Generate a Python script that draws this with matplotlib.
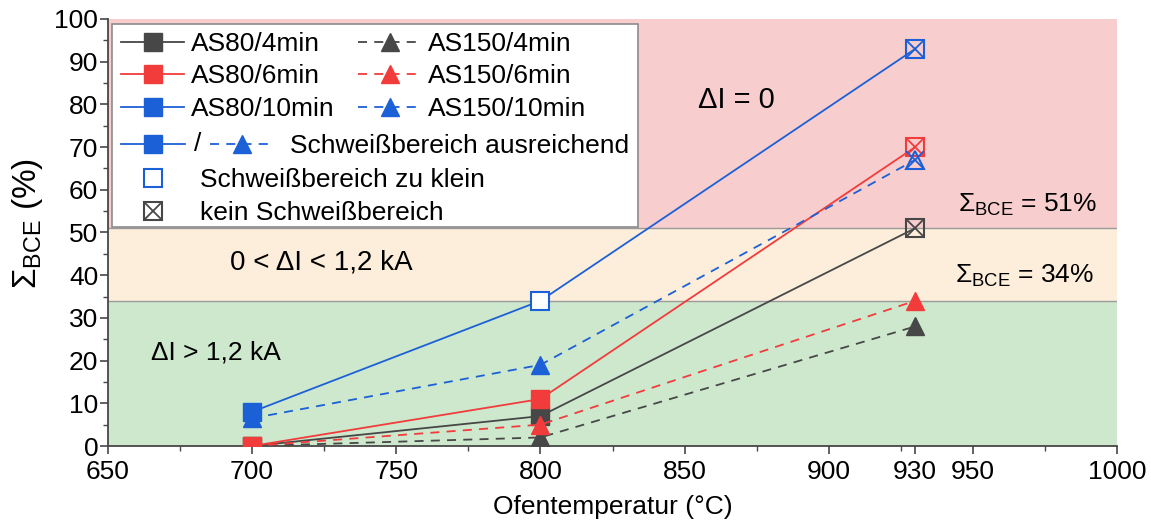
import numpy as np
import matplotlib
matplotlib.use("Agg")
import matplotlib.pyplot as plt
from matplotlib.lines import Line2D
from matplotlib.text import Text
from matplotlib.patches import Rectangle
from matplotlib.ticker import MultipleLocator
from matplotlib.legend_handler import HandlerTuple

plt.rcParams['font.family'] = ['Liberation Sans', 'DejaVu Sans']
plt.rcParams['mathtext.fontset'] = 'custom'
plt.rcParams['mathtext.rm'] = 'Liberation Sans'
plt.rcParams['mathtext.it'] = 'Liberation Sans:italic'
plt.rcParams['mathtext.bf'] = 'Liberation Sans:bold'

# data
temps = [700, 800, 930]
as80_4 = [0, 7, 51]
as80_6 = [0, 11, 70]
as80_10 = [8, 34, 93]
as150_4 = [0, 2, 28]
as150_6 = [0, 5, 34]
as150_10 = [6.5, 19, 67]
# ok = Schweißbereich ausreichend, small = zu klein, none = kein Schweißbereich
as80_4_state = ['ok', 'ok', 'none']
as80_6_state = ['ok', 'ok', 'none']
as80_10_state = ['ok', 'small', 'none']
as150_4_state = ['ok', 'ok', 'ok']
as150_6_state = ['ok', 'ok', 'ok']
as150_10_state = ['ok', 'ok', 'none']

limits = [34, 51]  # Sigma_BCE grenzen

GRAY = '#474747'
RED = '#f23c3c'
BLUE = '#1c60d8'
MS = 13
LW = 1.3
DASH = (0, (5, 4))

fig = plt.figure(figsize=(11.51, 5.27), dpi=100)
ax = fig.add_axes([0.0938, 0.1537, 0.8767, 0.8103])

ax.axhspan(0, limits[0], color='#cde8cc', zorder=0, lw=0)
ax.axhspan(limits[0], limits[1], color='#fdeedb', zorder=0, lw=0)
ax.axhspan(limits[1], 100, color='#f8cdcd', zorder=0, lw=0)
for l in limits:
    ax.axhline(l, color='#9a9a9a', lw=1, zorder=0.5)

series = [
    (as80_4, as80_4_state, GRAY, '-', 's'),
    (as150_4, as150_4_state, GRAY, DASH, '^'),
    (as150_6, as150_6_state, RED, DASH, '^'),
    (as80_6, as80_6_state, RED, '-', 's'),
    (as150_10, as150_10_state, BLUE, DASH, '^'),
    (as80_10, as80_10_state, BLUE, '-', 's'),
]

z = 2
for vals, state, c, ls, m in series:
    ax.plot(temps, vals, color=c, ls=ls, lw=LW, zorder=z)
    for t, v, s in zip(temps, vals, state):
        if s == 'ok':
            ax.plot(t, v, marker=m, ms=MS, color=c, mec=c, ls='none', zorder=z + 0.5)
        elif s == 'small':
            ax.plot(t, v, marker=m, ms=MS, mfc='white', mec=c, mew=1.5, ls='none', zorder=z + 0.5)
        else:
            ax.plot(t, v, marker=m, ms=MS, mfc='none', mec=c, mew=1.5, ls='none', zorder=z + 0.5)
            ax.plot(t, v, marker='x', ms=MS * 0.95, mec=c, mew=1.3, ls='none', zorder=z + 0.5)
    z += 1

ax.set_xlim(650, 1000)
ax.set_ylim(0, 100)
ax.set_xticks([650, 700, 750, 800, 850, 900, 930, 950, 1000])
ax.xaxis.set_minor_locator(MultipleLocator(25))
ax.yaxis.set_major_locator(MultipleLocator(10))
ax.yaxis.set_minor_locator(MultipleLocator(5))
ax.tick_params(which='both', direction='out', color=GRAY, labelsize=19)
ax.tick_params(axis='y', pad=1)
ax.tick_params(axis='x', pad=4)
ax.tick_params(which='major', length=6, width=1.2)
ax.tick_params(which='minor', length=3.5, width=1.0)
for sp in ['top', 'right']:
    ax.spines[sp].set_visible(False)
for sp in ['left', 'bottom']:
    ax.spines[sp].set_color(GRAY)
    ax.spines[sp].set_linewidth(1.3)

ax.set_xlabel('Ofentemperatur (°C)', fontsize=19, labelpad=8)
ax.set_ylabel('Σ$_{\\mathrm{BCE}}$ (%)', fontsize=24)
ax.yaxis.set_label_coords(-0.062, 0.52)

ax.text(868, 81, 'ΔI = 0', fontsize=21, ha='center', va='center')
ax.text(724, 43, '0 < ΔI < 1,2 kA', fontsize=20, ha='center', va='center')
ax.text(687.5, 22, 'ΔI > 1,2 kA', fontsize=19, ha='center', va='center')
ax.text(969, 56.4, 'Σ$_{\\mathrm{BCE}}$ = 51%', fontsize=19, ha='center', va='center')
ax.text(968, 39.8, 'Σ$_{\\mathrm{BCE}}$ = 34%', fontsize=19, ha='center', va='center')


# legend
class ComboHandler:
    def legend_artist(self, legend, orig_handle, fontsize, handlebox):
        xd, yd = handlebox.xdescent, handlebox.ydescent
        w, h = handlebox.width, handlebox.height
        y = (h - yd) / 2
        seg = 0.42 * w
        arts = [
            Line2D([-xd, -xd + seg], [y, y], color=BLUE, lw=LW),
            Line2D([-xd + seg / 2], [y], marker='s', ms=MS, color=BLUE, ls='none'),
            Text(-xd + w / 2, y, '/', fontsize=fontsize, ha='center', va='center'),
            Line2D([-xd + w - seg, -xd + w], [y, y], color=BLUE, lw=LW, ls=DASH),
            Line2D([-xd + w - seg / 2], [y], marker='^', ms=MS, color=BLUE, ls='none'),
        ]
        for a in arts:
            a.set_transform(handlebox.get_transform())
            handlebox.add_artist(a)
        return arts[0]


def proxy(c, ls, m):
    return Line2D([], [], color=c, ls=ls, lw=LW, marker=m, ms=MS)


hA = [proxy(GRAY, '-', 's'), proxy(RED, '-', 's'), proxy(BLUE, '-', 's'),
      proxy(GRAY, DASH, '^'), proxy(RED, DASH, '^'), proxy(BLUE, DASH, '^')]
lA = ['AS80/4min', 'AS80/6min', 'AS80/10min', 'AS150/4min', 'AS150/6min', 'AS150/10min']
legA = ax.legend(hA, lA, loc='upper left', bbox_to_anchor=(0.0129, 0.970), ncol=2,
                 frameon=False, fontsize=19, borderpad=0, borderaxespad=0,
                 handlelength=2.4, handletextpad=0.25, columnspacing=0.9,
                 labelspacing=0.33, numpoints=1)
legA.set_zorder(10)
ax.add_artist(legA)

combo = Line2D([], [], color=BLUE)
legB = ax.legend([combo], ['Schweißbereich ausreichend'], loc='upper left',
                 bbox_to_anchor=(0.0129, 0.731), frameon=False, fontsize=19,
                 borderpad=0, borderaxespad=0, handlelength=5.8, handletextpad=0.6,
                 handler_map={combo: ComboHandler()})
legB.set_zorder(10)
ax.add_artist(legB)

open_sq = Line2D([], [], marker='s', ms=MS, mfc='white', mec=BLUE, mew=1.5, ls='none')
box_sq = Line2D([], [], marker='s', ms=MS, mfc='none', mec=GRAY, mew=1.5, ls='none')
box_x = Line2D([], [], marker='x', ms=MS * 0.95, mec=GRAY, mew=1.3, ls='none')
legC = ax.legend([open_sq, (box_sq, box_x)], ['Schweißbereich zu klein', 'kein Schweißbereich'],
                 loc='upper left', bbox_to_anchor=(0.0129, 0.651), frameon=False, fontsize=19,
                 borderpad=0, borderaxespad=0, handlelength=2.4, handletextpad=0.6,
                 labelspacing=0.35, numpoints=1,
                 handler_map={tuple: HandlerTuple(ndivide=1)})
legC.set_zorder(10)

ax.add_patch(Rectangle((0.004, 0.513), 0.521, 0.475, transform=ax.transAxes,
                       facecolor='white', edgecolor='#8c8c8c', lw=1.2, zorder=9))

fig.savefig('out.png', dpi=100)
